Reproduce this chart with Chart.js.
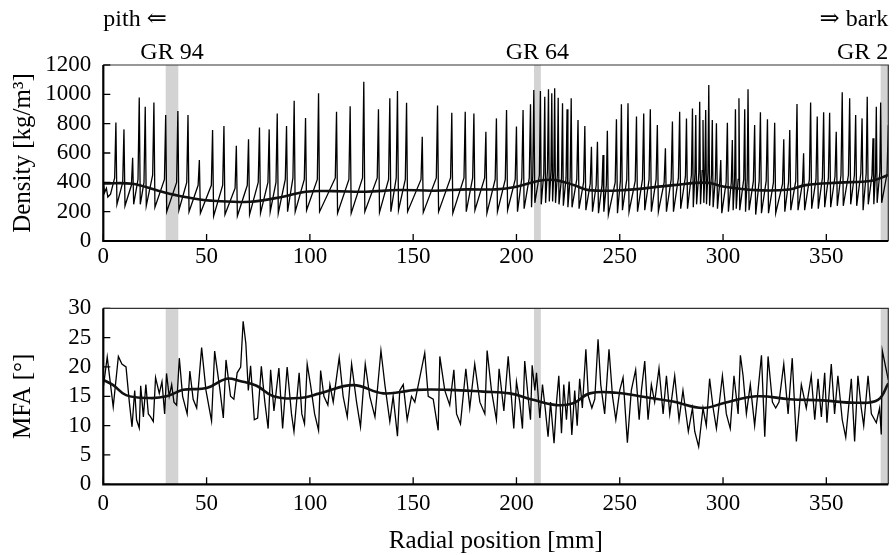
<!DOCTYPE html>
<html>
<head>
<meta charset="utf-8">
<script src="https://cdn.jsdelivr.net/npm/chart.js@4.4.0/dist/chart.umd.min.js"></script>
<style>
html, body { margin: 0; padding: 0; background: #fff; width: 896px; height: 555px; overflow: hidden; }
canvas { position: absolute; left: 0; }
#density { top: 0; }
#mfa { top: 270px; }
</style>
</head>
<body>
<canvas id="density" width="896" height="270"></canvas>
<canvas id="mfa" width="896" height="285"></canvas>
<script>
// axis ticks
var xTicks = [0, 50, 100, 150, 200, 250, 300, 350];
var densityTicks = [0, 200, 400, 600, 800, 1000, 1200];
var mfaTicks = [0, 5, 10, 15, 20, 25, 30];

// marked growth rings (mm range of the grey bands)
var ringLabels = ['GR 94', 'GR 64', 'GR 2'];
var ringBands = [[30.2, 36.3], [208.5, 211.8], [376.3, 380]];

// density profile [mm, kg/m3]
var densityRaw = [
    [0,410],[0.6,330],[1.5,360],[2.2,300],[3.5,320],
    [5.5,430],[6.1,808],[6.6,250], [9.4,400],[10.0,761],[10.5,240],
    [13.6,380],[14.2,568],[14.7,250], [16.8,420],[17.4,979],[17.9,250],
    [19.7,400],[20.3,915],[20.8,240], [23.9,450],[24.5,945],[25.0,230],
    [29.6,420],[30.2,859],[30.7,200], [35.5,400],[36.1,886],[36.6,210],
    [40.4,400],[41.0,859],[41.5,200], [45.9,380],[46.5,552],[47.0,190],
    [52.3,380],[52.9,757],[53.4,170], [57.8,380],[58.4,784],[58.9,180],
    [63.8,360],[64.4,650],[64.9,170], [69.7,380],[70.3,693],[70.8,180],
    [75.0,400],[75.6,773],[76.1,190], [79.7,400],[80.3,761],[80.8,200],
    [83.6,400],[84.2,870],[84.7,190], [88.1,420],[88.7,784],[89.2,200],
    [91.8,430],[92.4,957],[92.9,200], [97.3,420],[97.9,838],[98.4,210],
    [103.6,420],[104.2,1007],[104.7,200], [112.3,430],[112.9,882],[113.4,190],
    [118.9,420],[119.5,918],[120.0,190], [125.5,430],[126.1,1086],[126.6,200],
    [132.6,430],[133.2,898],[133.7,195], [138.1,420],[138.7,973],[139.2,200],
    [141.8,430],[142.4,1023],[142.9,210], [146.2,420],[146.8,943],[147.3,200],
    [153.8,420],[154.4,711],[154.9,195], [161.2,430],[161.8,923],[162.3,200],
    [168.1,430],[168.7,875],[169.2,190], [174.6,430],[175.2,882],[175.7,200],
    [178.8,430],[179.4,870],[179.9,210], [184.6,430],[185.2,745],[185.7,190],
    [189.7,420],[190.3,836],[190.8,200], [194.6,420],[195.2,893],[195.7,210],
    [199.4,420],[200.0,780],[200.5,200], [202.6,430],[203.2,893],[203.7,220],
    [206.2,430],[206.8,932],[207.3,230], [207.9,450],[208.4,1030],[208.9,260],
    [211.1,450],[211.6,1023],[212.0,250], [213.2,460],[213.7,984],[214.1,260],
    [215.0,480],[215.5,1034],[215.9,270], [216.7,480],[217.1,1007],[217.5,270],
    [218.1,470],[218.5,1041],[218.9,260], [219.8,450],[220.2,977],[220.6,250],
    [221.8,430],[222.3,939],[222.7,240], [224.0,430],[224.5,898],[224.9,230],
    [226.0,430],[226.5,973],[226.9,230], [229.2,420],[229.8,825],[230.3,220],
    [232.5,400],[233.1,784],[233.6,210], [235.7,390],[236.3,643],[236.8,200],
    [238.6,380],[239.2,677],[239.7,190], [241.4,380],[241.9,586],[242.3,200],
    [243.5,380],[244.0,752],[244.5,180], [247.8,400],[248.4,830],[248.9,190],
    [250.3,410],[250.8,932],[251.3,210], [253.4,420],[254.0,939],[254.5,200],
    [257.5,410],[258.1,848],[258.6,200], [261.0,420],[261.6,870],[262.1,210],
    [264.2,420],[264.8,898],[265.3,200], [267.6,420],[268.2,791],[268.7,200],
    [271.5,400],[272.1,632],[272.6,200], [274.9,420],[275.5,814],[276.0,200],
    [278.4,430],[279.0,882],[279.5,220], [281.8,440],[282.3,836],[282.8,220],
    [284.7,450],[285.2,904],[285.6,230], [286.4,460],[286.8,859],[287.2,250],
    [288.3,470],[288.7,950],[289.1,250], [289.9,480],[290.3,825],[290.7,260],
    [291.2,470],[291.6,893],[292.0,250], [292.7,470],[293.1,1064],[293.5,240],
    [294.4,450],[294.8,825],[295.2,230], [296.3,430],[296.8,802],[297.3,220],
    [298.4,400],[298.9,552],[299.4,190], [301.5,400],[302.1,807],[302.6,200],
    [304.0,400],[304.5,689],[304.9,210], [305.6,420],[306.0,898],[306.4,220],
    [307.3,420],[307.7,973],[308.1,210], [310.0,420],[310.5,898],[310.9,200],
    [311.7,420],[312.1,1034],[312.6,210], [314.7,410],[315.3,791],[315.8,180],
    [317.5,410],[318.1,877],[318.6,190], [320.9,410],[321.5,830],[322.0,190],
    [324.4,400],[325.0,807],[325.5,190], [328.8,390],[329.4,693],[329.9,200],
    [331.7,400],[332.3,757],[332.8,210], [335.2,410],[335.8,934],[336.3,210],
    [338.5,400],[339.0,598],[339.5,210], [341.8,420],[342.4,945],[342.9,220],
    [345.0,420],[345.6,848],[346.1,220], [348.1,430],[348.7,877],[349.2,230],
    [351.0,430],[351.6,875],[352.1,230], [354.2,440],[354.8,745],[355.3,240],
    [357.1,450],[357.7,1014],[358.2,240], [360.7,450],[361.3,973],[361.8,250],
    [363.6,450],[364.2,859],[364.7,240], [366.7,460],[367.3,836],[367.8,210],
    [369.3,460],[369.8,984],[370.3,250], [372.1,450],[372.6,700],[373.0,250],
    [373.8,460],[374.2,916],[374.6,260], [375.9,470],[376.3,945],[376.8,260],
    [379.4,460],[380.0,791]
];
var densitySmooth = [
    [0,393],[14,390],[27,341],[39,302],[52,275],[71,268],[87,302],[98,336],
    [111,340],[127,336],[143,348],[160,343],[176,352],[190,352],[200,370],
    [211,411],[219,415],[228,380],[235,347],[252,347],[276,381],[292,398],
    [300,372],[316,347],[332,351],[340,381],[356,398],[372,411],[380,450]
];

// microfibril angle profile [mm, degrees]
var mfaRaw = [
    [0.0,16.5],[1.9,21.7],[3.5,17],[4.8,13.2],[7.3,21.8],[9.0,20.5],[11.0,20.0],
    [12.6,14],[13.9,9.8],[15.2,16],[16.1,11],[17.4,9.6],[18.1,16.8],[19.4,11.5],
    [20.6,17],[21.8,12],[22.9,11.5],[24.2,10.7],[25.3,18.2],[27.1,15.5],[28.4,17.5],
    [29.7,12.0],[30.6,18.9],[31.9,15],[33.1,17],[34.2,14],[35.5,13.5],[36.8,21.5],
    [38.4,15],[40.6,12.0],[41.9,19.3],[43.5,14.5],[45.2,13],[47.6,23.3],[49.7,16],
    [52.4,10.8],[53.9,22.7],[56.5,16],[58.1,11.3],[59.4,21.2],[61.6,15],[63.2,14.5],
    [64.8,19],[66.5,20.0],[67.7,27.8],[69.0,24],[70.2,16],[71.3,20.2],[73.1,11],
    [74.7,11.3],[76.5,20.1],[78.2,14],[79.8,9.5],[81.0,19.5],[82.6,12.5],[85.0,19.8],
    [86.8,9.5],[89.0,20.0],[91.1,12],[92.3,9],[94.8,19.0],[96.1,12],[97.4,10.3],
    [98.7,20.5],[100.3,17],[102.3,12],[104.2,9.2],[105.2,19.4],[106.8,15],[108.7,13.5],
    [109.7,17],[111.3,14],[114.2,21.6],[116.1,15],[118.1,11.5],[120.2,20.5],[122.6,14],
    [124.5,9.8],[126.8,20.5],[129.0,15],[131.5,11.5],[134.4,22.8],[136.3,17],[138.7,10.7],
    [140.3,15],[142.4,8.2],[143.5,16],[145.2,17],[147.1,11],[149.2,15],[150.8,14],
    [155.6,22.4],[157.3,15],[159.7,14.5],[162.1,9.2],[162.9,21.8],[165.3,16],[167.7,13.5],
    [169.7,19.5],[171.0,12],[172.9,10.3],[175.5,19.7],[177.4,13],[179.8,20.5],[182.3,14],
    [184.7,12],[185.8,22.8],[187.9,16],[190.3,11],[191.6,19.7],[193.9,12.5],[196.0,21.8],
    [197.3,16],[198.7,9.5],[200.0,17.5],[201.6,14],[202.9,9.5],[204.0,21.0],[205.6,15],
    [206.8,11],[207.6,20.3],[208.9,16],[209.7,19],[211.3,11.3],[212.6,17],[213.9,13],
    [215.3,8.1],[216.5,14],[218.2,7.0],[219.4,14],[220.5,18.5],[221.8,8.7],[222.9,17],
    [224.2,11],[225.5,17.5],[226.8,8.4],[228.2,16],[229.4,10],[230.6,18],[231.9,13],
    [233.6,23.0],[234.8,15],[236.5,13],[237.9,14.5],[239.5,24.7],[240.8,17],[242.7,12],
    [244.8,23.0],[246.5,15],[248.1,11],[250.0,16],[251.6,18.2],[253.7,7.1],[255.6,16],
    [257.7,19.5],[259.4,11],[260.5,16],[262.1,21],[263.7,11],[265.3,17],[266.9,14],
    [269.0,19.8],[271.0,12],[272.6,18.5],[274.2,12],[276.6,18.5],[278.7,11],[280.6,16],
    [283.2,9],[285.2,13],[286.3,9],[288.2,6.4],[290.3,13],[291.9,10],[293.5,18],
    [295.2,13],[296.8,9.5],[299.7,18.5],[301.6,12],[303.5,9.5],[305.3,18.5],[307.3,12],
    [308.4,22],[309.7,18.5],[311.3,12],[313.2,17],[315.3,10],[318.6,22],[320.2,8.1],
    [321.8,21.8],[323.9,14],[325.5,13],[327.1,14],[329.4,20.5],[331.5,12],[333.5,21.5],
    [335.5,7.3],[337.9,17],[340.3,13],[342.7,18.5],[344.4,11],[346.0,18],[347.6,11.5],
    [349.2,19],[350.3,10.5],[352.4,20.5],[354.0,12],[355.6,18.5],[357.7,11],[359.4,8],
    [362.1,18],[363.7,7.3],[365.3,18.5],[366.9,13],[368.1,10],[370.2,18.5],[371.8,12],
    [374.2,10.5],[375.8,13],[376.6,8.5],[377.1,22.8],[378.7,20],[380.0,17.8]
];
var mfaSmooth = [
    [0,17.8],[4.8,16.9],[11,15.2],[22.6,14.7],[30.6,15],[38.7,16.1],[50,16.4],
    [59.7,18],[66.1,17.6],[74.2,16.8],[82.3,15],[95.2,14.7],[104.8,15.5],[121,16.9],
    [135.5,15.5],[151.6,16.1],[167.7,16.1],[183.9,15.8],[196.8,15.5],[208,14.4],
    [219.4,13.5],[227.4,13.8],[235.5,15.5],[248.4,15.6],[259.7,15],[275.8,14.1],
    [290.3,13],[300,13.8],[316.1,15],[332.3,14.5],[348.4,14.3],[364.5,13.9],
    [375,14.4],[380,17.2]
];

var FONT = "'Liberation Serif', 'DejaVu Serif', serif";

function toXY(arr) {
    return arr.map(function (p) { return {x: p[0], y: p[1]}; });
}

// grey ring bands, inward ticks, frame and the top annotations
var decor = {
    id: 'decor',
    beforeDatasetsDraw: function (chart) {
        var ctx = chart.ctx, a = chart.chartArea, x = chart.scales.x;
        ctx.save();
        ctx.fillStyle = '#d3d3d3';
        ringBands.forEach(function (b) {
            var x0 = x.getPixelForValue(b[0]), x1 = x.getPixelForValue(b[1]);
            ctx.fillRect(x0, a.top, x1 - x0, a.bottom - a.top);
        });
        ctx.restore();
    },
    afterDraw: function (chart, args, opts) {
        var ctx = chart.ctx, a = chart.chartArea, x = chart.scales.x, y = chart.scales.y;
        ctx.save();
        ctx.strokeStyle = '#000';
        ctx.lineWidth = 1.3;
        ctx.beginPath();
        xTicks.forEach(function (v) {
            var px = x.getPixelForValue(v);
            ctx.moveTo(px, a.bottom);
            ctx.lineTo(px, a.bottom - 7);
        });
        y.ticks.forEach(function (t) {
            var py = y.getPixelForValue(t.value);
            ctx.moveTo(a.left, py);
            ctx.lineTo(a.left + 7, py);
        });
        ctx.stroke();

        ctx.strokeStyle = '#333';
        ctx.lineWidth = 1.2;
        ctx.beginPath();
        ctx.moveTo(a.left, a.top);
        ctx.lineTo(a.right, a.top);
        ctx.lineTo(a.right, a.bottom);
        ctx.stroke();
        ctx.strokeStyle = '#000';
        ctx.lineWidth = 2.2;
        ctx.beginPath();
        ctx.moveTo(a.left, a.top);
        ctx.lineTo(a.left, a.bottom);
        ctx.lineTo(a.right, a.bottom);
        ctx.stroke();

        if (opts.labels) {
            ctx.fillStyle = '#000';
            ctx.font = '24px ' + FONT;
            ctx.textBaseline = 'alphabetic';
            ctx.textAlign = 'left';
            ctx.fillText('pith \u21D0', a.left, 26);
            ctx.textAlign = 'right';
            ctx.fillText('\u21D2 bark', a.right, 26);
            ctx.textAlign = 'left';
            ringLabels.forEach(function (label, i) {
                var cx = x.getPixelForValue((ringBands[i][0] + ringBands[i][1]) / 2);
                var w = ctx.measureText(label).width;
                ctx.fillText(label, Math.min(cx - w / 2, a.right - w), 59);
            });
        }
        ctx.restore();
    }
};

function makePanel(id, raw, smooth, yMax, yTicks, yTitle, xTitle, padTop, xHeight, xPad, labels) {
    return new Chart(document.getElementById(id), {
        type: 'line',
        data: {
            datasets: [{
                data: toXY(smooth),
                borderColor: '#111',
                borderWidth: 2.6,
                pointRadius: 0,
                tension: 0.4,
                order: 0
            }, {
                data: toXY(raw),
                borderColor: '#000',
                borderWidth: 1.3,
                pointRadius: 0,
                tension: 0,
                order: 1
            }]
        },
        options: {
            responsive: false,
            devicePixelRatio: 1,
            animation: false,
            events: [],
            layout: {padding: {top: padTop, right: 7.7, left: 0, bottom: 0}},
            plugins: {legend: {display: false}, tooltip: {enabled: false}, decor: {labels: labels}},
            scales: {
                x: {
                    type: 'linear',
                    min: 0,
                    max: 380,
                    afterBuildTicks: function (s) { s.ticks = xTicks.map(function (v) { return {value: v}; }); },
                    afterFit: function (s) { s.height = xHeight; },
                    grid: {display: false, drawTicks: false},
                    border: {display: false},
                    ticks: {
                        color: '#000', font: {family: FONT, size: 23}, padding: xPad,
                        maxRotation: 0, autoSkip: false,
                        callback: function (v) { return String(v); }
                    },
                    title: {
                        display: !!xTitle, text: xTitle || '', color: '#000',
                        font: {family: FONT, size: 25, lineHeight: 1}, padding: {top: 0, bottom: 1}
                    }
                },
                y: {
                    min: 0,
                    max: yMax,
                    afterBuildTicks: function (s) { s.ticks = yTicks.map(function (v) { return {value: v}; }); },
                    afterFit: function (s) { s.width = 103.3; },
                    grid: {display: false, drawTicks: false},
                    border: {display: false},
                    ticks: {
                        color: '#000', font: {family: FONT, size: 23}, padding: 12,
                        autoSkip: false,
                        callback: function (v) { return String(v); }
                    },
                    title: {
                        display: true, text: yTitle, color: '#000',
                        font: {family: FONT, size: 25, lineHeight: 1.2}, padding: {top: 8, bottom: 0}
                    }
                }
            }
        },
        plugins: [decor]
    });
}

makePanel('density', densityRaw, densitySmooth, 1200, densityTicks, 'Density [kg/m\u00B3]', null, 65, 29, 2, true);
makePanel('mfa', mfaRaw, mfaSmooth, 30, mfaTicks, 'MFA [\u00B0]', 'Radial position [mm]', 38.3, 70.7, 6, false);
</script>
</body>
</html>
